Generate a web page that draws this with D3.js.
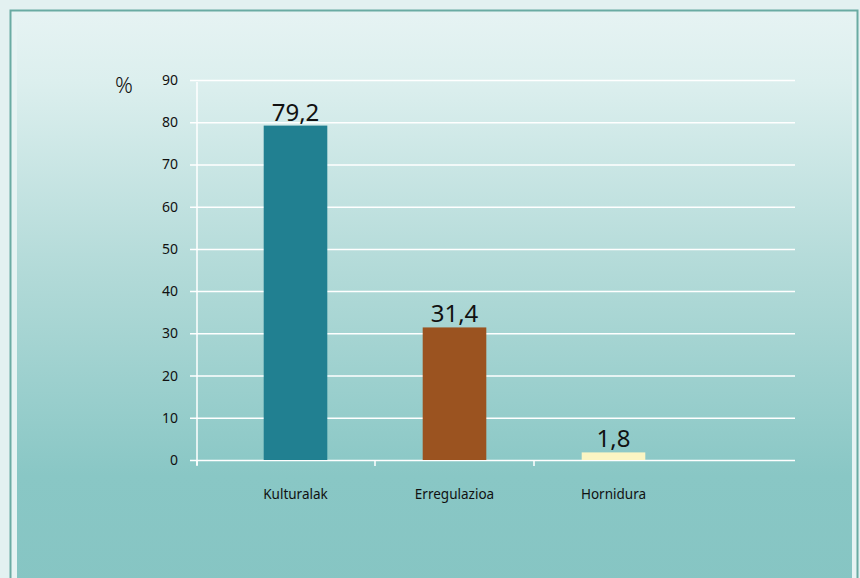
<!DOCTYPE html>
<html lang="eu">
<head>
  <meta charset="utf-8">
  <title>Kulturalak / Erregulazioa / Hornidura</title>
  <script src="https://cdn.jsdelivr.net/npm/d3@7/dist/d3.min.js"></script>
  <style>
    body { margin: 0; background: #e3f1f1; }
    text { font-family: "Noto Sans", "Open Sans", sans-serif; fill: #111; }
    .yAxis text { font-size: 14px; text-anchor: end; }
    .catLabel { font-size: 13.5px; text-anchor: middle; }
    .barLabel { font-size: 24px; text-anchor: middle; }
  </style>
</head>
<body>
<script>
  // data
  const categories = ["Kulturalak", "Erregulazioa", "Hornidura"];
  const values = [79.2, 31.4, 1.8];
  const labels = ["79,2", "31,4", "1,8"];
  const colors = ["#218091", "#9b5320", "#fbf5c3"];
  const yTicks = [0, 10, 20, 30, 40, 50, 60, 70, 80, 90];

  const width = 860, height = 578;
  const plot = { left: 197, right: 795, top: 80, bottom: 460 };

  const svg = d3.select("body").append("svg")
    .attr("width", width).attr("height", height);

  // background gradient panel
  const grad = svg.append("defs").append("linearGradient")
    .attr("id", "bg").attr("x1", 0).attr("y1", 0).attr("x2", 0).attr("y2", 1);
  grad.append("stop").attr("offset", "0").attr("stop-color", "#e6f3f3");
  grad.append("stop").attr("offset", "0.12").attr("stop-color", "#dcefee");
  grad.append("stop").attr("offset", "0.45").attr("stop-color", "#b2dad8");
  grad.append("stop").attr("offset", "0.8").attr("stop-color", "#89c7c5");
  grad.append("stop").attr("offset", "1").attr("stop-color", "#86c5c3");

  svg.append("rect").attr("x", 0).attr("y", 0).attr("width", width).attr("height", height)
    .attr("fill", "#e3f1f1");
  svg.append("rect").attr("x", 10.5).attr("y", 10.5).attr("width", 847).attr("height", 580)
    .attr("fill", "#e6f3f3").attr("stroke", "#6aaba3").attr("stroke-width", 2);
  svg.append("rect").attr("x", 17).attr("y", 12).attr("width", 835).attr("height", 580)
    .attr("fill", "url(#bg)");

  // scales
  const y = d3.scaleLinear().domain([0, 90]).range([plot.bottom, plot.top]);
  const x = d3.scaleBand().domain(categories).range([216, 693]).paddingInner(0.6).paddingOuter(0.3);

  // grid lines + y axis
  const yAxis = d3.axisLeft(y).tickValues(yTicks).tickSize(-(plot.right - plot.left) - 7).tickPadding(12);
  const yg = svg.append("g").attr("class", "yAxis")
    .attr("transform", `translate(${plot.right},0)`)
    .call(yAxis);
  yg.select(".domain").remove();
  yg.selectAll(".tick line").attr("stroke", "#ffffff").attr("stroke-width", 1.5)
    .attr("x1", 0).attr("x2", -(plot.right - plot.left) - 7);
  yg.selectAll(".tick text").attr("x", -(plot.right - plot.left) - 19).attr("dy", "0.32em");

  // vertical axis line
  svg.append("line")
    .attr("x1", plot.left).attr("x2", plot.left)
    .attr("y1", y(90) + 2).attr("y2", plot.bottom + 5)
    .attr("stroke", "#ffffff").attr("stroke-width", 1.5);

  // x axis ticks at category boundaries
  const bounds = [plot.left].concat(categories.slice(1).map((c, i) => {
    const prev = categories[i];
    return (x(prev) + x.bandwidth() + x(c)) / 2;
  }));
  svg.selectAll("line.xTick").data(bounds).enter().append("line")
    .attr("class", "xTick")
    .attr("x1", d => d).attr("x2", d => d)
    .attr("y1", plot.bottom).attr("y2", plot.bottom + 6)
    .attr("stroke", "#ffffff").attr("stroke-width", 1.5);

  // bars
  svg.selectAll("rect.bar").data(values).enter().append("rect")
    .attr("class", "bar")
    .attr("x", (d, i) => x(categories[i]))
    .attr("width", x.bandwidth())
    .attr("y", d => y(d))
    .attr("height", d => y(0) - y(d))
    .attr("fill", (d, i) => colors[i]);

  // value labels
  svg.selectAll("text.barLabel").data(values).enter().append("text")
    .attr("class", "barLabel")
    .attr("x", (d, i) => x(categories[i]) + x.bandwidth() / 2)
    .attr("y", d => y(d) - 5)
    .text((d, i) => labels[i]);

  // category labels
  svg.selectAll("text.catLabel").data(categories).enter().append("text")
    .attr("class", "catLabel")
    .attr("x", d => x(d) + x.bandwidth() / 2)
    .attr("y", 499)
    .text(d => d);

  // unit
  svg.append("text").attr("x", 124).attr("y", 93)
    .attr("text-anchor", "middle").style("font-size", "22px").style("font-weight", "300").text("%");
</script>
</body>
</html>
